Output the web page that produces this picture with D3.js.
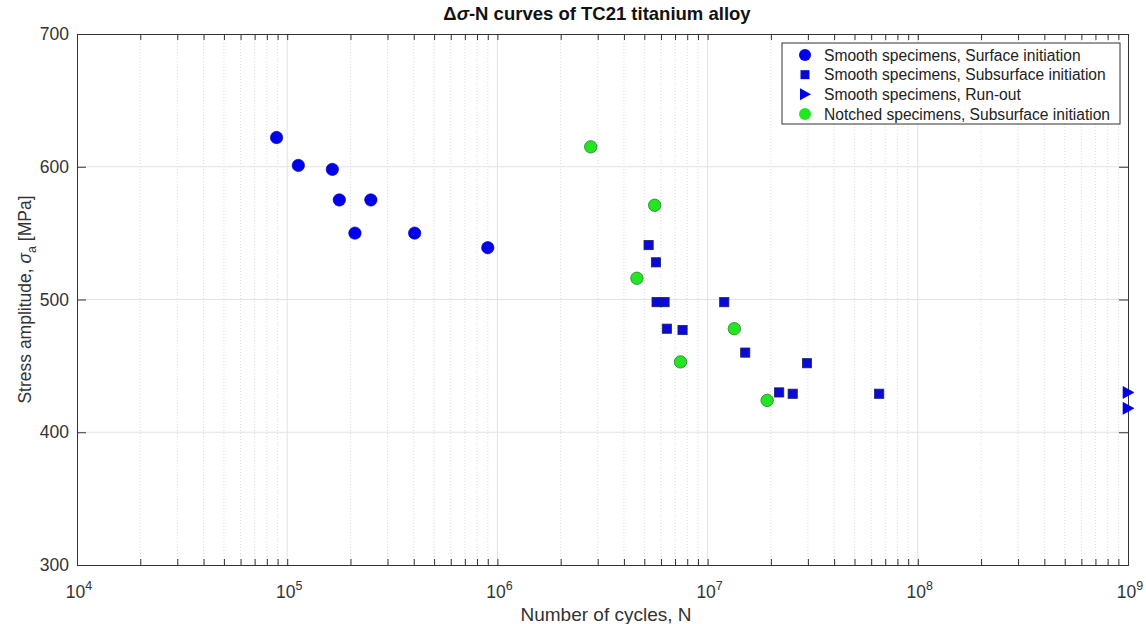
<!DOCTYPE html>
<html>
<head>
<meta charset="utf-8">
<script src="https://cdn.jsdelivr.net/npm/d3@7"></script>
<style>
  body { margin: 0; background: #fff; }
  svg { font-family: "Liberation Sans", Arial, sans-serif; }
</style>
</head>
<body>
<svg id="chart" width="1146" height="624"></svg>
<script>
// data (N cycles, stress MPa)
const surfN = [8.9e4, 1.13e5, 1.64e5, 1.77e5, 2.5e5, 2.1e5, 4.04e5, 9.0e5];
const surfS = [622, 601, 598, 575, 575, 550, 550, 539];

const subN = [5.24e6, 5.68e6, 5.72e6, 6.24e6, 1.2e7, 6.4e6, 7.6e6, 1.51e7, 2.97e7, 2.19e7, 2.54e7, 6.55e7];
const subS = [541, 528, 498, 498, 498, 478, 477, 460, 452, 430, 429, 429];

const runN = [1e9, 1e9];
const runS = [430, 418];

const notchN = [2.78e6, 5.6e6, 4.61e6, 1.34e7, 7.43e6, 1.92e7];
const notchS = [615, 571, 516, 478, 453, 424];

const yTicks = [300, 400, 500, 600, 700];
const xDecades = [4, 5, 6, 7, 8, 9];

const legendItems = [
  "Smooth specimens, Surface initiation",
  "Smooth specimens, Subsurface initiation",
  "Smooth specimens, Run-out",
  "Notched specimens, Subsurface initiation"
];

const blue = "#0000ee", green = "#22e622";

const m = { left: 77, right: 1128, top: 34, bottom: 565 };
const svg = d3.select("#chart");

const x = d3.scaleLog().domain([1e4, 1e9]).range([m.left, m.right]);
const y = d3.scaleLinear().domain([300, 700]).range([m.bottom, m.top]);

// minor values 2..9 for each decade
let minors = [];
xDecades.slice(0, -1).forEach(d => {
  for (let k = 2; k <= 9; k++) minors.push(k * Math.pow(10, d));
});
const majors = xDecades.map(d => Math.pow(10, d));

// grid
let grid = svg.append("g");
grid.selectAll(".minor").data(minors).enter().append("line")
  .attr("x1", d => x(d)).attr("x2", d => x(d))
  .attr("y1", m.top).attr("y2", m.bottom)
  .attr("stroke", "#dcdcdc").attr("stroke-width", 1)
  .attr("stroke-dasharray", "1,2");
grid.selectAll(".major").data(majors.slice(1, -1)).enter().append("line")
  .attr("x1", d => x(d)).attr("x2", d => x(d))
  .attr("y1", m.top).attr("y2", m.bottom)
  .attr("stroke", "#e2e2e2").attr("stroke-width", 1);
grid.selectAll(".hgrid").data(yTicks.slice(1, -1)).enter().append("line")
  .attr("x1", m.left).attr("x2", m.right)
  .attr("y1", d => y(d)).attr("y2", d => y(d))
  .attr("stroke", "#e2e2e2").attr("stroke-width", 1);

// axes (ticks pointing inward, box on)
let xTop = svg.append("g").attr("transform", `translate(0,${m.top})`)
  .call(d3.axisTop(x).tickValues(minors.concat(majors)).tickSize(-6).tickFormat(""));
xTop.select(".domain").attr("stroke", "#333");
xTop.selectAll(".tick line").attr("stroke", "#333");
let xBot = svg.append("g").attr("transform", `translate(0,${m.bottom})`)
  .call(d3.axisBottom(x).tickValues(minors.concat(majors)).tickSize(-6).tickFormat(""));
xBot.select(".domain").attr("stroke", "#333");
xBot.selectAll(".tick line").attr("stroke", "#333");

// x tick labels as 10 with superscript
let xl = svg.append("g").selectAll("text").data(xDecades).enter().append("text")
  .attr("x", d => x(Math.pow(10, d)) + 2)
  .attr("y", 598)
  .attr("text-anchor", "middle")
  .attr("fill", "#333")
  .attr("font-size", 17.5);
xl.append("tspan").text("10");
xl.append("tspan").attr("dy", -8).attr("font-size", 12.5).text(d => d);

let yAxis = svg.append("g").attr("transform", `translate(${m.left},0)`)
  .call(d3.axisLeft(y).tickValues(yTicks).tickSize(-9).tickPadding(8));
yAxis.select(".domain").attr("stroke", "#333");
yAxis.selectAll(".tick line").attr("stroke", "#333");
yAxis.selectAll("text").attr("font-size", 17.5).attr("fill", "#333")
  .attr("font-family", "Liberation Sans, Arial, sans-serif");
let yRight = svg.append("g").attr("transform", `translate(${m.right},0)`)
  .call(d3.axisRight(y).tickValues(yTicks).tickSize(-9).tickFormat(""));
yRight.select(".domain").attr("stroke", "#333");
yRight.selectAll(".tick line").attr("stroke", "#333");

// labels
svg.append("text")
  .attr("x", 597).attr("y", 20)
  .attr("text-anchor", "middle").attr("font-weight", "bold")
  .attr("font-size", 18.5).attr("fill", "#111")
  .html('Δ<tspan font-style="italic">σ</tspan>-N curves of TC21 titanium alloy');

svg.append("text")
  .attr("x", 606).attr("y", 621)
  .attr("text-anchor", "middle").attr("font-size", 19).attr("fill", "#333")
  .text("Number of cycles, N");

let yl = svg.append("text")
  .attr("transform", `translate(31,${(m.top + m.bottom) / 2}) rotate(-90)`)
  .attr("text-anchor", "middle").attr("font-size", 17.5).attr("fill", "#333");
yl.append("tspan").text("Stress amplitude, ");
yl.append("tspan").attr("font-style", "italic").text("σ");
yl.append("tspan").attr("dy", 5).attr("font-size", 12.5).text("a");
yl.append("tspan").attr("dy", -5).text(" [MPa]");

// markers
const pts = (ns, ss) => ns.map((n, i) => ({ n: n, s: ss[i] }));
let plot = svg.append("g");

plot.selectAll(".surf").data(pts(surfN, surfS)).enter().append("circle")
  .attr("cx", d => x(d.n)).attr("cy", d => y(d.s)).attr("r", 6.2)
  .attr("fill", blue).attr("stroke", "#0000a0").attr("stroke-width", 0.6);

plot.selectAll(".sub").data(pts(subN, subS)).enter().append("rect")
  .attr("x", d => x(d.n) - 4.6).attr("y", d => y(d.s) - 4.6)
  .attr("width", 9.2).attr("height", 9.2)
  .attr("fill", "#0a0ad8").attr("stroke", "#20206a").attr("stroke-width", 0.8);

plot.selectAll(".run").data(pts(runN, runS)).enter().append("path")
  .attr("d", d => {
    const cx = x(d.n), cy = y(d.s);
    return `M${cx - 5},${cy - 6}L${cx + 6},${cy}L${cx - 5},${cy + 6}Z`;
  })
  .attr("fill", blue).attr("stroke", "#0000a0").attr("stroke-width", 0.6);

plot.selectAll(".notch").data(pts(notchN, notchS)).enter().append("circle")
  .attr("cx", d => x(d.n)).attr("cy", d => y(d.s)).attr("r", 6.2)
  .attr("fill", green).attr("stroke", "#2a7a2a").attr("stroke-width", 0.8);

// legend
let lg = svg.append("g");
lg.append("rect").attr("x", 782).attr("y", 43).attr("width", 338).attr("height", 81)
  .attr("fill", "#fff").attr("stroke", "#333").attr("stroke-width", 1);
const ly = d3.scalePoint().domain(legendItems).range([55, 114]);
lg.selectAll("text").data(legendItems).enter().append("text")
  .attr("x", 824).attr("y", d => ly(d) + 5.5)
  .attr("font-size", 15.6).attr("fill", "#222").text(d => d);
const lx = 805;
lg.append("circle").attr("cx", lx).attr("cy", ly(legendItems[0])).attr("r", 6)
  .attr("fill", blue);
lg.append("rect").attr("x", lx - 4.5).attr("y", ly(legendItems[1]) - 4.5)
  .attr("width", 9).attr("height", 9).attr("fill", "#0a0ad8");
lg.append("path").attr("d", () => {
  const cy = ly(legendItems[2]);
  return `M${lx - 5},${cy - 6}L${lx + 6},${cy}L${lx - 5},${cy + 6}Z`;
}).attr("fill", blue);
lg.append("circle").attr("cx", lx).attr("cy", ly(legendItems[3])).attr("r", 6)
  .attr("fill", green);
</script>
</body>
</html>
